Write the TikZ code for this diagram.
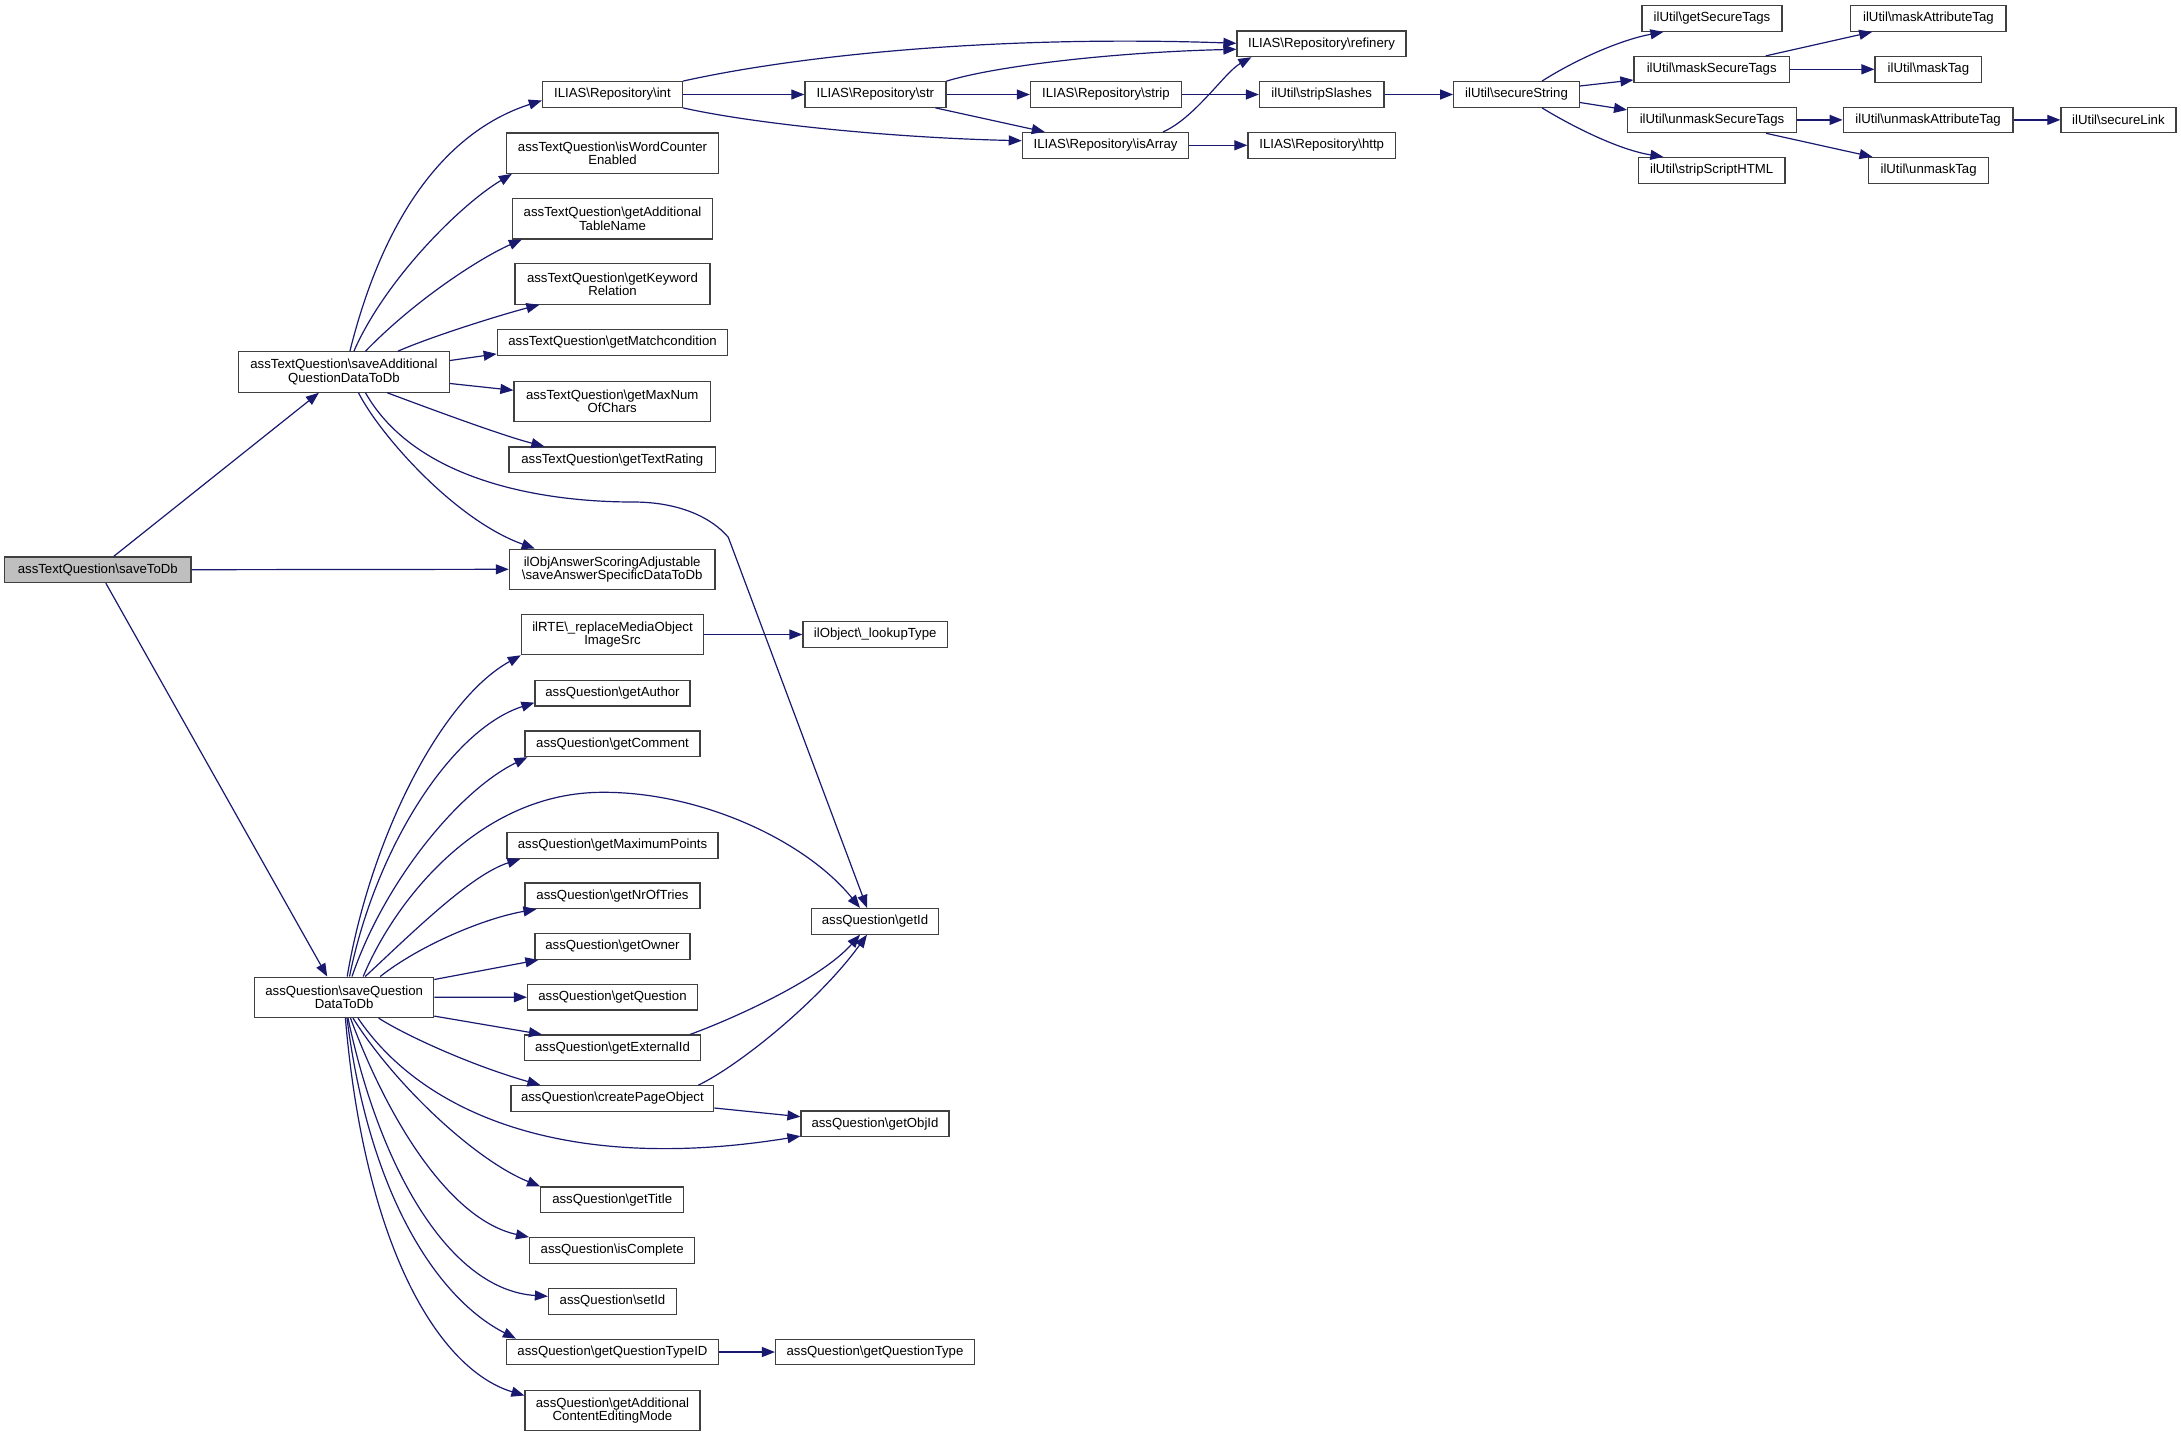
\documentclass[tikz,border=0pt]{standalone}
\usepackage{fontspec}
\newfontfamily\nodefnt{Liberation Sans}
\usetikzlibrary{arrows.meta,calc}
\definecolor{edgeblue}{HTML}{191970}
\definecolor{rootgray}{HTML}{BFBFBF}
\definecolor{boxline}{HTML}{404040}
\begin{document}
\begin{tikzpicture}[x=1pt,y=-1pt,
  box/.style={draw=boxline, fill=white, line width=1.2pt, inner sep=0pt, align=center,
    font={\nodefnt\fontsize{13.2}{13.2}\selectfont}, minimum height=25.6pt},
  two/.style={minimum height=40.4pt},
  edge/.style={draw=edgeblue, line width=1.2pt, -{Triangle[length=13pt,width=10pt]}}]
\useasboundingbox (0,0) rectangle (2181,1437);
\fill[white] (0,0) rectangle (2181,1437);
% left column
\node[box, fill=rootgray, minimum width=186.3pt] (s0) at (97.8,569.7) {assTextQuestion\textbackslash saveToDb};
\node[box, two, minimum width=211pt] (sa) at (343.9,372) {assTextQuestion\textbackslash saveAdditional\\QuestionDataToDb};
\node[box, two, minimum width=179pt] (sq) at (344.2,997.3) {assQuestion\textbackslash saveQuestion\\DataToDb};
% second column
\node[box, minimum width=140pt] (int) at (612.4,94.5) {ILIAS\textbackslash Repository\textbackslash int};
\node[box, two, minimum width=212pt] (wc) at (612.5,153.1) {assTextQuestion\textbackslash isWordCounter\\Enabled};
\node[box, two, minimum width=200pt] (tn) at (612.5,218.7) {assTextQuestion\textbackslash getAdditional\\TableName};
\node[box, two, minimum width=195pt] (kr) at (612.5,284) {assTextQuestion\textbackslash getKeyword\\Relation};
\node[box, minimum width=230.5pt] (mc) at (612.5,342.5) {assTextQuestion\textbackslash getMatchcondition};
\node[box, two, minimum width=196.4pt] (mn) at (612.2,401.3) {assTextQuestion\textbackslash getMaxNum\\OfChars};
\node[box, minimum width=206.7pt] (tr) at (612.3,459.8) {assTextQuestion\textbackslash getTextRating};
\node[box, two, minimum width=205.7pt] (oa) at (612.2,569.3) {ilObjAnswerScoringAdjustable\\\textbackslash saveAnswerSpecificDataToDb};
\node[box, two, minimum width=182.2pt] (rte) at (612.5,634.5) {ilRTE\textbackslash \_replaceMediaObject\\ImageSrc};
\node[box, minimum width=155pt] (au) at (612.5,693.2) {assQuestion\textbackslash getAuthor};
\node[box, minimum width=175pt] (cm) at (612.5,743.8) {assQuestion\textbackslash getComment};
\node[box, minimum width=211pt] (mp) at (612.5,845.5) {assQuestion\textbackslash getMaximumPoints};
\node[box, minimum width=175pt] (nt) at (612.5,895.8) {assQuestion\textbackslash getNrOfTries};
\node[box, minimum width=155pt] (ow) at (612.5,946.5) {assQuestion\textbackslash getOwner};
\node[box, minimum width=170pt] (qu) at (612.5,997.2) {assQuestion\textbackslash getQuestion};
\node[box, minimum width=176pt] (ex) at (612.5,1047.8) {assQuestion\textbackslash getExternalId};
\node[box, minimum width=202.8pt] (cp) at (612.4,1098.5) {assQuestion\textbackslash createPageObject};
\node[box, minimum width=143pt] (ti) at (612.2,1199.8) {assQuestion\textbackslash getTitle};
\node[box, minimum width=165.3pt] (ic) at (612.2,1250.5) {assQuestion\textbackslash isComplete};
\node[box, minimum width=128pt] (sid) at (612.5,1301.3) {assQuestion\textbackslash setId};
\node[box, minimum width=212pt] (qt) at (612.5,1352) {assQuestion\textbackslash getQuestionTypeID};
\node[box, two, minimum width=175pt] (ac) at (612.5,1410.5) {assQuestion\textbackslash getAdditional\\ContentEditingMode};
% third column
\node[box, minimum width=141pt] (str) at (875.4,94.5) {ILIAS\textbackslash Repository\textbackslash str};
\node[box, minimum width=144.4pt] (lt) at (875.2,634.5) {ilObject\textbackslash \_lookupType};
\node[box, minimum width=127.6pt] (gid) at (875,921.3) {assQuestion\textbackslash getId};
\node[box, minimum width=148pt] (oid) at (875,1123.7) {assQuestion\textbackslash getObjId};
\node[box, minimum width=199pt] (qty) at (875,1352) {assQuestion\textbackslash getQuestionType};
% further columns
\node[box, minimum width=151pt] (strip) at (1105.9,94.5) {ILIAS\textbackslash Repository\textbackslash strip};
\node[box, minimum width=166.5pt] (arr) at (1105.6,145.3) {ILIAS\textbackslash Repository\textbackslash isArray};
\node[box, minimum width=169pt] (ref) at (1321.5,43.8) {ILIAS\textbackslash Repository\textbackslash refinery};
\node[box, minimum width=124.5pt] (ss) at (1321.7,94.5) {ilUtil\textbackslash stripSlashes};
\node[box, minimum width=147.5pt] (http) at (1321.7,145.3) {ILIAS\textbackslash Repository\textbackslash http};
\node[box, minimum width=125.5pt] (sec) at (1516.5,94.5) {ilUtil\textbackslash secureString};
\node[box, minimum width=140pt] (gst) at (1712,18.5) {ilUtil\textbackslash getSecureTags};
\node[box, minimum width=155.4pt] (mst) at (1711.7,69.3) {ilUtil\textbackslash maskSecureTags};
\node[box, minimum width=168.8pt] (ust) at (1712,119.9) {ilUtil\textbackslash unmaskSecureTags};
\node[box, minimum width=146.5pt] (ssh) at (1711.7,170.3) {ilUtil\textbackslash stripScriptHTML};
\node[box, minimum width=155.3pt] (mat) at (1928.4,18.5) {ilUtil\textbackslash maskAttributeTag};
\node[box, minimum width=106.7pt] (mt) at (1928.4,69.3) {ilUtil\textbackslash maskTag};
\node[box, minimum width=169.8pt] (uat) at (1928.1,119.9) {ilUtil\textbackslash unmaskAttributeTag};
\node[box, minimum width=120pt] (ut) at (1928.6,170.3) {ilUtil\textbackslash unmaskTag};
\node[box, minimum width=115pt] (sl) at (2118.4,119.9) {ilUtil\textbackslash secureLink};
% edges from root
\draw[edge] ($(s0.north)+(16,0)$) -- ($(sa.south)+(-25,0)$);
\draw[edge] (s0.east) -- (oa.west);
\draw[edge] ($(s0.south)+(8,0)$) -- ($(sq.north)+(-17,0)$);
% saveAdditional fan
\draw[edge] ($(sa.north)+(6,0)$) .. controls (385,210) and (450,130) .. ($(int.west)+(0,6)$);
\draw[edge] ($(sa.north)+(10,0)$) .. controls (385,280) and (460,205) .. ($(wc.south west)+(6,0)$);
\draw[edge] ($(sa.north)+(21.6,0)$) .. controls (415,300) and (480,258) .. ($(tn.south west)+(10,0)$);
\draw[edge] ($(sa.north)+(54,0)$) .. controls (430,337) and (500,315) .. ($(kr.south west)+(25,0)$);
\draw[edge] ($(sa.east)+(0,-11.5)$) -- ($(mc.south west)+(0,-2)$);
\draw[edge] ($(sa.east)+(0,11.5)$) -- ($(mn.west)+(0,-11)$);
\draw[edge] ($(sa.south)+(43.4,0)$) .. controls (420,405) and (500,435) .. ($(tr.north west)+(36,0)$);
\draw[edge] ($(sa.south)+(14.6,0)$) .. controls (380,435) and (455,520) .. ($(oa.north west)+(26,0)$);
\draw[edge] ($(sa.south)+(21.6,0)$) .. controls (415,480) and (540,502) .. (633,502)
  .. controls (680,502) and (712,518) .. (728.3,537.3) -- ($(gid.north)+(-8,0)$);
% saveQuestion fan
\draw[edge] ($(sq.north)+(3,0)$) .. controls (370,840) and (440,700) .. (rte.south west);
\draw[edge] ($(sq.north)+(5.3,0)$) .. controls (375,850) and (450,730) .. ($(au.south west)+(0,-4)$);
\draw[edge] ($(sq.north)+(7.8,0)$) .. controls (385,880) and (460,790) .. ($(cm.south west)+(3,0)$);
\draw[edge] ($(sq.north)+(19,0)$) .. controls (395,900) and (480,792) .. (603,792.3)
  .. controls (700,792) and (805,840) .. ($(gid.north)+(-15,0)$);
\draw[edge] ($(sq.north)+(21,0)$) .. controls (410,935) and (470,875) .. ($(mp.south west)+(14,0)$);
\draw[edge] ($(sq.north)+(36,0)$) .. controls (420,945) and (485,918) .. ($(nt.south west)+(12,0)$);
\draw[edge] ($(sq.north east)+(0,3)$) -- ($(ow.south west)+(4,0)$);
\draw[edge] (sq.east) -- (qu.west);
\draw[edge] ($(sq.south east)+(0,-2)$) -- ($(ex.north west)+(18,0)$);
\draw[edge] ($(sq.south)+(34.4,0)$) .. controls (405,1035) and (470,1065) .. ($(cp.north west)+(30,0)$);
\draw[edge] ($(sq.south)+(13.8,0)$) .. controls (420,1110) and (560,1175) .. ($(oid.south west)+(0,-1)$);
\draw[edge] ($(sq.south)+(8.8,0)$) .. controls (395,1085) and (475,1160) .. (ti.north west);
\draw[edge] ($(sq.south)+(6.3,0)$) .. controls (388,1120) and (450,1220) .. (ic.north west);
\draw[edge] ($(sq.south)+(3.8,0)$) .. controls (380,1170) and (450,1290) .. ($(sid.west)+(0,-5)$);
\draw[edge] ($(sq.south)+(2.8,0)$) .. controls (370,1200) and (440,1300) .. ($(qt.north west)+(10,0)$);
\draw[edge] ($(sq.south)+(1.2,0)$) .. controls (365,1250) and (440,1370) .. ($(ac.west)+(0,-15)$);
% second-level edges
\draw[edge] (rte.east) -- (lt.west);
\draw[edge] ($(ex.north east)+(-11,0)$) .. controls (730,1020) and (820,980) .. ($(gid.south)+(-15,0)$);
\draw[edge] ($(cp.north east)+(-16,0)$) .. controls (740,1065) and (820,1000) .. ($(gid.south)+(-8,0)$);
\draw[edge] ($(cp.east)+(0,9.5)$) -- ($(oid.west)+(0,-7)$);
\draw[edge] (qt.east) -- (qty.west);
% top region
\draw[edge] (int.north east) .. controls (800,55) and (1000,35) .. ($(ref.west)+(0,-0.5)$);
\draw[edge] (int.east) -- (str.west);
\draw[edge] (int.south east) .. controls (760,125) and (900,138) .. ($(arr.west)+(0,-4.6)$);
\draw[edge] (str.north east) .. controls (1000,65) and (1120,52) .. ($(ref.west)+(0,5.5)$);
\draw[edge] (str.east) -- (strip.west);
\draw[edge] ($(str.south east)+(-11,0)$) -- ($(arr.north west)+(23,0)$);
\draw[edge] (strip.east) -- (ss.west);
\draw[edge] ($(arr.north)+(57.4,0)$) .. controls (1195,118) and (1225,72) .. ($(ref.south west)+(15,0)$);
\draw[edge] (arr.east) -- (http.west);
\draw[edge] (ss.east) -- (sec.west);
\draw[edge] ($(sec.north)+(25.5,0)$) .. controls (1575,60) and (1620,40) .. ($(gst.south west)+(22,0)$);
\draw[edge] ($(sec.east)+(0,-8.5)$) -- ($(mst.west)+(0,10.7)$);
\draw[edge] ($(sec.east)+(0,8)$) -- ($(ust.west)+(0,-10)$);
\draw[edge] ($(sec.south)+(25.5,0)$) .. controls (1575,128) and (1620,150) .. ($(ssh.north west)+(25.5,0)$);
\draw[edge] ($(mst.north)+(54,0)$) -- ($(mat.south west)+(22,0)$);
\draw[edge] (mst.east) -- (mt.west);
\draw[edge] (ust.east) -- (uat.west);
\draw[edge] ($(ust.south)+(54,0)$) -- ($(ut.north west)+(4.5,0)$);
\draw[edge] (uat.east) -- (sl.west);
\end{tikzpicture}
\end{document}
